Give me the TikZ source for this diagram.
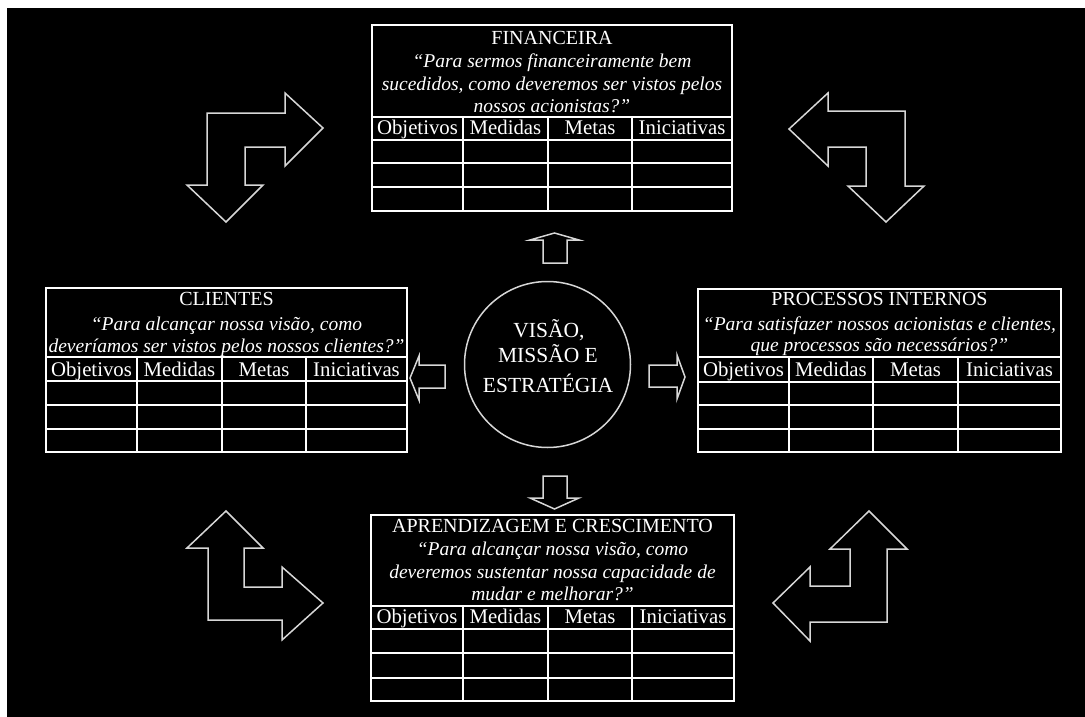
\documentclass[tikz,border=0pt]{standalone}
\usepackage{fontspec}
\setmainfont{Liberation Serif}
\begin{document}
\begin{tikzpicture}[x=1pt,y=-1pt,
  tline/.style={draw=white,line width=1.8pt},
  arr/.style={draw={rgb,255:red,215;green,215;blue,215},line width=1.5pt,line join=miter},
  ttl/.style={text=white,anchor=base,inner sep=0pt,font=\fontsize{20}{24}\selectfont},
  qt/.style={text=white,anchor=base,inner sep=0pt,font=\fontsize{19.5}{24}\selectfont\itshape},
  hd/.style={text=white,anchor=base,inner sep=0pt,font=\fontsize{20.8}{24}\selectfont},
  ctr/.style={ttl,font=\fontsize{21.5}{24}\selectfont}]

% canvas
\useasboundingbox (0,0) rectangle (1085,717);
\fill[white] (0,0) rectangle (1085,717);
\fill[black] (7,8) rectangle (1085,717);

% table grid: x0, x1, top, header bottom, row1, row2, row3, bottom; then column lines
\newcommand\bscgrid[2]{%
  \foreach \xa/\xb/\yt/\yh/\ra/\rb/\rc/\yb in {#1}{%
    \draw[tline] (\xa,\yt) rectangle (\xb,\yb);
    \foreach \yy in {\yh,\ra,\rb,\rc} \draw[tline] (\xa,\yy) -- (\xb,\yy);
    \foreach \xx in {#2} \draw[tline] (\xx,\yh) -- (\xx,\yb);
  }}
% header labels: prefix, x0, c1, c2, c3, x1, baseline
\newcommand\hdrow[7]{%
  \node[hd] (#1o) at ({(#2+#3)/2},#7) {Objetivos};
  \node[hd] (#1m) at ({(#3+#4)/2},#7) {Medidas};
  \node[hd] (#1t) at ({(#4+#5)/2},#7) {Metas};
  \node[hd] (#1i) at ({(#5+#6)/2},#7) {Iniciativas};}

% ---- FINANCEIRA
\bscgrid{372/732/25/117/140/163/187/211}{463,548,632}
\node[ttl] (finT) at (552,45) {FINANCEIRA};
\node[qt] (finA) at (552,68) {“Para sermos financeiramente bem};
\node[qt] (finB) at (552,91) {sucedidos, como deveremos ser vistos pelos};
\node[qt] (finC) at (552,113) {nossos acionistas?”};
\hdrow{fin}{372}{463}{548}{632}{732}{135}

% ---- CLIENTES
\bscgrid{46/407/288/357/381/405/429/452}{137,222,306}
\node[ttl] (cliT) at (226.5,305) {CLIENTES};
\node[qt] (cliA) at (226.5,330) {“Para alcançar nossa visão, como};
\node[qt] (cliB) at (226.5,352) {deveríamos ser vistos pelos nossos clientes?”};
\hdrow{cli}{46}{137}{222}{306}{407}{376}

% ---- PROCESSOS INTERNOS
\bscgrid{698/1061/289/357/382/405/429/452}{789,873,958}
\node[ttl] (proT) at (879.5,305) {PROCESSOS INTERNOS};
\node[qt] (proA) at (879.5,330) {“Para satisfazer nossos acionistas e clientes,};
\node[qt] (proB) at (879.5,351) {que processos são necessários?”};
\hdrow{pro}{698}{789}{873}{958}{1061}{376}

% ---- APRENDIZAGEM E CRESCIMENTO
\bscgrid{371/734/515/606/629/653/678/701}{463,548,632}
\node[ttl] (aprT) at (552.5,532) {APRENDIZAGEM E CRESCIMENTO};
\node[qt] (aprA) at (552.5,555) {“Para alcançar nossa visão, como};
\node[qt] (aprB) at (552.5,578) {deveremos sustentar nossa capacidade de};
\node[qt] (aprC) at (552.5,600) {mudar e melhorar?”};
\hdrow{apr}{371}{463}{548}{632}{734}{623}

% ---- centre: vision, mission and strategy
\draw[arr] (547.5,364.5) circle (83);
\node[ctr] (vis1) at (549,337) {VISÃO,};
\node[ctr] (vis2) at (548,362) {MISSÃO E};
\node[ctr] (vis3) at (548,392) {ESTRATÉGIA};

% ---- block arrows from the centre
\draw[arr] (543,263) -- (543,240) -- (530,240) -- (554.5,233) -- (579,240) -- (567,240) -- (567,263) -- cycle;
\draw[arr] (543,476) -- (567,476) -- (567,498) -- (579,498) -- (554.5,509) -- (530,498) -- (543,498) -- cycle;
\draw[arr] (649,365) -- (677,365) -- (677,355) -- (685,377) -- (677,399) -- (677,387) -- (649,387) -- cycle;
\draw[arr] (445,365) -- (419,365) -- (419,356) -- (410,378) -- (419,400) -- (419,388) -- (445,388) -- cycle;

% ---- bent arrows in the corners
\draw[arr] (207,113) -- (285,113) -- (285,93) -- (323,128) -- (285,166) -- (285,147) -- (245,147)
  -- (245,185) -- (263,185) -- (226,222) -- (187,185) -- (207,185) -- cycle;
\draw[arr] (828,111) -- (905,111) -- (905,186) -- (924,186) -- (886,222) -- (848,186) -- (866,186)
  -- (866,147) -- (828,147) -- (828,166) -- (789,129) -- (828,93) -- cycle;
\draw[arr] (208,620) -- (208,548) -- (187,548) -- (226,511) -- (263,548) -- (244,548) -- (244,587)
  -- (282,587) -- (282,567) -- (323,603) -- (282,640) -- (282,620) -- cycle;
\draw[arr] (887,622) -- (810,622) -- (810,641) -- (773,603) -- (810,567) -- (810,586) -- (850,586)
  -- (850,549) -- (830,549) -- (869,511) -- (907,549) -- (887,549) -- cycle;
\end{tikzpicture}
\end{document}
